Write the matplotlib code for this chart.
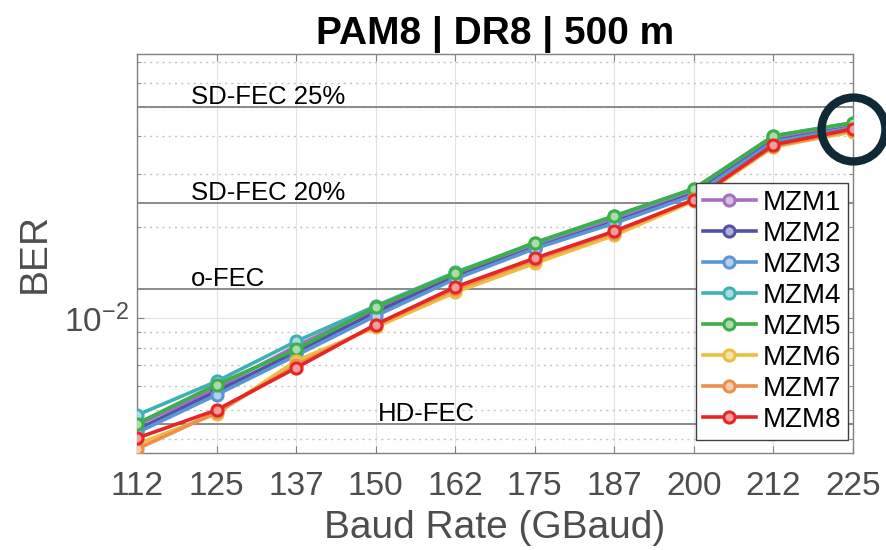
import numpy as np
import matplotlib.pyplot as plt
from matplotlib.colors import to_rgb
from matplotlib.ticker import LogLocator, NullFormatter, FixedLocator

plt.rcParams['font.family'] = ['Liberation Sans', 'DejaVu Sans']
plt.rcParams['mathtext.fontset'] = 'custom'
plt.rcParams['mathtext.rm'] = 'Liberation Sans'
plt.rcParams['mathtext.it'] = 'Liberation Sans:italic'
plt.rcParams['mathtext.bf'] = 'Liberation Sans:bold'

# symbol rate sweep
baud = [112.5, 125, 137.5, 150, 162.5, 175, 187.5, 200, 212.5, 225]
baud_labels = ['112', '125', '137', '150', '162', '175', '187', '200', '212', '225']

# measured BER per modulator
mzm1 = [4.45e-3, 5.90e-3, 8.10e-3, 1.08e-2, 1.39e-2, 1.74e-2, 2.12e-2, 2.60e-2, 3.90e-2, 4.30e-2]
mzm2 = [4.30e-3, 5.75e-3, 7.75e-3, 1.05e-2, 1.37e-2, 1.71e-2, 2.08e-2, 2.58e-2, 3.85e-2, 4.28e-2]
mzm3 = [4.20e-3, 5.60e-3, 7.55e-3, 1.02e-2, 1.35e-2, 1.70e-2, 2.06e-2, 2.55e-2, 3.82e-2, 4.27e-2]
mzm4 = [4.80e-3, 6.20e-3, 8.40e-3, 1.10e-2, 1.42e-2, 1.77e-2, 2.17e-2, 2.67e-2, 4.00e-2, 4.42e-2]
mzm5 = [4.50e-3, 6.05e-3, 7.90e-3, 1.09e-2, 1.41e-2, 1.78e-2, 2.18e-2, 2.68e-2, 4.00e-2, 4.42e-2]
mzm6 = [3.85e-3, 4.85e-3, 7.25e-3, 9.35e-3, 1.22e-2, 1.52e-2, 1.88e-2, 2.44e-2, 3.68e-2, 4.13e-2]
mzm7 = [3.71e-3, 4.90e-3, 7.00e-3, 9.50e-3, 1.25e-2, 1.56e-2, 1.92e-2, 2.47e-2, 3.70e-2, 4.18e-2]
mzm8 = [4.03e-3, 4.99e-3, 6.87e-3, 9.55e-3, 1.27e-2, 1.58e-2, 1.94e-2, 2.46e-2, 3.74e-2, 4.22e-2]

series = [mzm1, mzm2, mzm3, mzm4, mzm5, mzm6, mzm7, mzm8]
names = ['MZM1', 'MZM2', 'MZM3', 'MZM4', 'MZM5', 'MZM6', 'MZM7', 'MZM8']
colors = ['#a46fc0', '#5252a8', '#5b95d5', '#3fb1b5', '#3fae49', '#ecbd3f', '#ec8f4e', '#e52626']

# FEC thresholds
fec_levels = [5.0e-2, 2.4e-2, 1.25e-2, 4.5e-3]
fec_names = ['SD-FEC 25%', 'SD-FEC 20%', 'o-FEC', 'HD-FEC']

fig = plt.figure(figsize=(8.86, 5.5), dpi=100)
ax = fig.add_axes([0.1546, 0.1764, 0.8082, 0.7254])

gray = '#4d4d4d'

ax.set_yscale('log')
ax.set_xlim(112.5, 225)
ax.set_ylim(3.6e-3, 7.45e-2)

# grid
ax.xaxis.set_major_locator(FixedLocator(baud))
ax.set_xticklabels(baud_labels)
ax.yaxis.set_major_locator(LogLocator(base=10))
ax.yaxis.set_minor_locator(LogLocator(base=10, subs=np.arange(2, 10)))
ax.yaxis.set_minor_formatter(NullFormatter())
ax.grid(True, which='major', color='#e3e3e3', lw=0.8)
ax.grid(True, which='minor', axis='y', color='#c4c4c4', lw=1.0, ls=(0, (1.5, 3)))
ax.set_axisbelow(True)

for level in fec_levels:
    ax.axhline(level, color='#8a8a8a', lw=1.4, zorder=1)

text_x = [121, 121, 121, 150.3]
for level, name, tx in zip(fec_levels, fec_names, text_x):
    ax.annotate(name, (tx, level), xytext=(0, 2), textcoords='offset points',
                ha='left', va='baseline', fontsize=18.5, color='black', zorder=2)

for y, name, c in zip(series, names, colors):
    face = 0.45 * np.array(to_rgb(c)) + 0.55
    ax.plot(baud, y, '-o', color=c, lw=2.6, ms=8, mfc=face, mec=c, mew=2.2,
            label=name, zorder=3)

# highlight ring on the last point
ax.plot(baud[-1], mzm8[-1], marker='o', ms=46, mfc='none', mec='#0f2a36', mew=6,
        clip_on=False, zorder=10)

for s in ax.spines.values():
    s.set_color('#808080')
    s.set_linewidth(1.0)

ax.tick_params(which='both', direction='in', top=True, right=True, colors='#808080',
               labelcolor=gray)
ax.tick_params(which='major', length=5)
ax.tick_params(which='minor', length=3)
ax.tick_params(axis='x', labelsize=24, pad=13)
ax.tick_params(axis='y', labelsize=24, pad=6)

ax.set_xlabel('Baud Rate (GBaud)', fontsize=28, color=gray, labelpad=6)
ax.set_ylabel('BER', fontsize=28, color=gray, labelpad=8)
ax.set_title('PAM8 | DR8 | 500 m', fontsize=28, fontweight='bold', color='black', pad=7)

leg = ax.legend(loc='upper right', bbox_to_anchor=(0.993, 0.677), borderaxespad=0,
                fontsize=20, fancybox=False, framealpha=1, edgecolor='#404040',
                handlelength=1.9, handletextpad=0.25, labelspacing=0.18, borderpad=0.25)
leg.get_frame().set_linewidth(1.0)

fig.savefig('out.png', dpi=100)
